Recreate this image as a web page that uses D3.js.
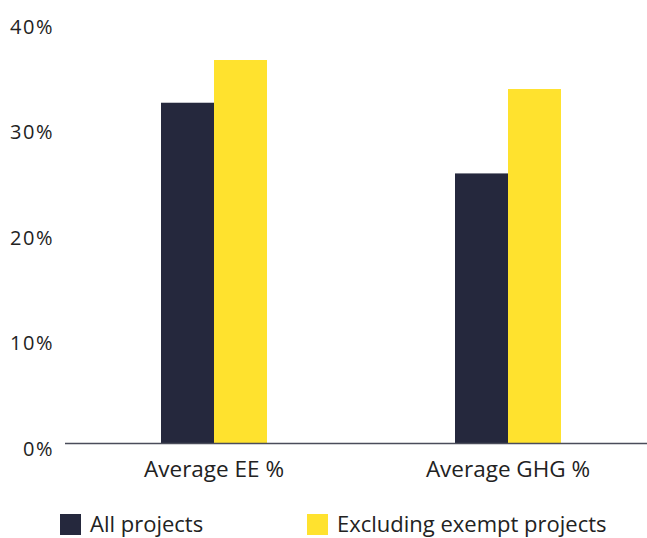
<!DOCTYPE html>
<html>
<head>
<meta charset="utf-8">
<script src="https://cdn.jsdelivr.net/npm/d3@7"></script>
<style>
  html, body { margin: 0; padding: 0; background: #fff; }
  svg text { font-family: "Open Sans", sans-serif; fill: #222; }
</style>
</head>
<body>
<svg id="chart" width="647" height="538"></svg>
<script>
const categories = ["Average EE %", "Average GHG %"];
const seriesNames = ["All projects", "Excluding exempt projects"];
const allProjects = [32.3, 25.6];
const excludingExempt = [36.35, 33.6];
const yTicks = [0, 10, 20, 30, 40];
const colors = ["#25283d", "#ffe22e"];

const svg = d3.select("#chart");
const y0 = 443.5, yTop = 21.5;
const fontFamily = "'Open Sans', sans-serif";

const x = d3.scaleBand().domain(categories).range([67, 655]).paddingInner(0).paddingOuter(0);
const xInner = d3.scaleBand().domain(seriesNames).range([0, 106]);
const y = d3.scaleLinear().domain([0, 40]).range([y0, yTop]);

const rows = categories.map((c, i) => ({ cat: c, vals: [allProjects[i], excludingExempt[i]] }));

svg.append("g").selectAll("g.grp").data(rows).join("g")
  .attr("class", "grp")
  .attr("transform", d => `translate(${x(d.cat) + x.bandwidth() / 2 - 53},0)`)
  .selectAll("rect").data(d => d.vals.map((v, j) => ({ v, s: seriesNames[j], j })))
  .join("rect")
  .attr("x", d => xInner(d.s))
  .attr("width", xInner.bandwidth())
  .attr("y", d => y(d.v))
  .attr("height", d => y0 - y(d.v))
  .attr("fill", d => colors[d.j]);

// y axis labels only, no axis line
const yAxis = d3.axisLeft(y).tickValues(yTicks).tickFormat(d => d + "%").tickSize(0).tickPadding(0);
const ya = svg.append("g").attr("transform", "translate(54,5.5)").call(yAxis);
ya.select(".domain").remove();
ya.selectAll("text").style("font-size", "20px").style("font-family", fontFamily)
  .style("letter-spacing", "1.5px").attr("fill", "#222");

// category axis
const xAxis = d3.axisBottom(x).tickSize(0).tickPadding(0);
const xa = svg.append("g").attr("transform", `translate(0,${y0})`).call(xAxis);
xa.select(".domain").remove();
xa.selectAll("text").attr("dy", "33px").style("font-size", "22.5px").style("font-family", fontFamily).attr("fill", "#222");
svg.append("line").attr("x1", 65).attr("x2", 647).attr("y1", y0).attr("y2", y0)
  .attr("stroke", "#4a4c5a").attr("stroke-width", 1.5);

// legend
const legendX = [60, 307];
const lg = svg.selectAll("g.leg").data(seriesNames).join("g")
  .attr("class", "leg")
  .attr("transform", (d, i) => `translate(${legendX[i]},514)`);
lg.append("rect").attr("width", 21).attr("height", 21).attr("fill", (d, i) => colors[i]);
lg.append("text").attr("x", 30).attr("y", 18).style("font-size", "22px").style("font-family", fontFamily).text(d => d);
</script>
</body>
</html>
